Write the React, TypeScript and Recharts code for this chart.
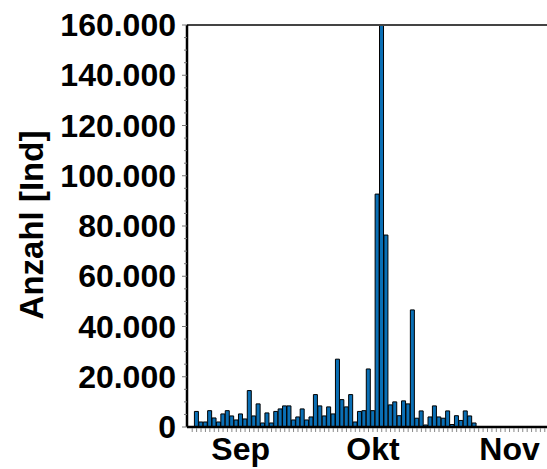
import React from 'react';
import { BarChart, Bar, XAxis, YAxis, ReferenceLine } from 'recharts';

// Daily counts (first category empty, then 64 observed days, then empty days)
const leadingZeros = [0];
const observed = [
  6200, 2000, 2000, 6500, 3600, 2000, 5200, 6500, 4400, 2800,
  5200, 3200, 14500, 4400, 9200, 1600, 5600, 1600, 6200, 7200,
  8400, 8400, 2800, 4000, 7200, 2800, 4000, 12900, 8400, 4400,
  8000, 5200, 27000, 10900, 8000, 12900, 2000, 6200, 6500, 23100,
  6500, 92700, 160000, 76400, 8800, 10000, 4500, 10400, 9200, 46600,
  3500, 6400, 800, 4000, 8400, 4000, 3500, 6400, 1000, 4500,
  2600, 6400, 4400, 1600,
];
const trailingZeros = [0, 0, 0, 0, 0, 0, 0, 0, 0, 0, 0, 0, 0, 0, 0, 0];
const values = [...leadingZeros, ...observed, ...trailingZeros];

// Category labels: consecutive days starting 4 Sep
const startDate = new Date(2021, 8, 4);
const days = values.map((_, i) => {
  const d = new Date(startDate.getTime());
  d.setDate(d.getDate() + i);
  return `${String(d.getDate()).padStart(2, '0')}.${String(d.getMonth() + 1).padStart(2, '0')}`;
});

const monthTicks: Record<string, string> = { '15.09': 'Sep', '15.10': 'Okt', '15.11': 'Nov' };
const yTicks = Array.from({ length: 33 }, (_, i) => i * 5000);

const data = days.map((day, i) => ({ day, count: values[i] }));

const FONT = '"Liberation Sans", Arial, sans-serif';

const fmt = (v: number) => String(v).replace(/\B(?=(\d{3})+(?!\d))/g, '.');

const YTick = (props: any) => {
  const { x, y, payload } = props;
  const major = payload.value % 20000 === 0;
  return (
    <g>
      <line x1={x - (major ? 5 : 3)} x2={x} y1={y} y2={y} stroke="#777" strokeWidth={1} />
      {major && (
        <text x={x - 11} y={y} dy={11} textAnchor="end" fontFamily={FONT} fontWeight="bold" fontSize={32} fill="#000">
          {fmt(payload.value)}
        </text>
      )}
    </g>
  );
};

const XTick = (props: any) => {
  const { x, y, payload } = props;
  const lbl = monthTicks[payload.value];
  return (
    <g>
      <line x1={x} x2={x} y1={y + 1} y2={y + 5} stroke="#888" strokeWidth={1} />
      {lbl && (
        <text x={x} y={y + 33} textAnchor="middle" fontFamily={FONT} fontWeight="bold" fontSize={32} fill="#000">
          {lbl}
        </text>
      )}
    </g>
  );
};

const YLabel = () => (
  <text
    x={31}
    y={225}
    transform="rotate(-90, 31, 225)"
    textAnchor="middle"
    dominantBaseline="central"
    fontFamily={FONT}
    fontWeight="bold"
    fontSize={33}
    fill="#000"
  >
    Anzahl [Ind]
  </text>
);

export default function App() {
  return (
    <div style={{ position: 'absolute', left: 0, top: 0, width: 547, height: 469, background: '#fff' }}>
      <BarChart
        width={547}
        height={469}
        data={data}
        margin={{ top: 25, right: 0, bottom: 0, left: 0 }}
        barCategoryGap={0}
        barGap={0}
      >
        <XAxis
          dataKey="day"
          interval={0}
          height={42}
          padding={{ left: 3, right: 0 }}
          tickSize={0}
          tickMargin={0}
          tickLine={false}
          tick={<XTick />}
          axisLine={{ stroke: '#000', strokeWidth: 2.5 }}
        />
        <YAxis
          width={187}
          domain={[0, 160000]}
          allowDataOverflow
          ticks={yTicks}
          interval={0}
          tickSize={0}
          tickMargin={0}
          tickLine={false}
          tick={<YTick />}
          axisLine={{ stroke: '#000', strokeWidth: 2.5 }}
          label={<YLabel />}
        />
        <ReferenceLine y={160000} stroke="#444" strokeWidth={2} />
        <Bar dataKey="count" fill="#0a6fb5" stroke="#000" strokeWidth={1} isAnimationActive={false} />
      </BarChart>
    </div>
  );
}
